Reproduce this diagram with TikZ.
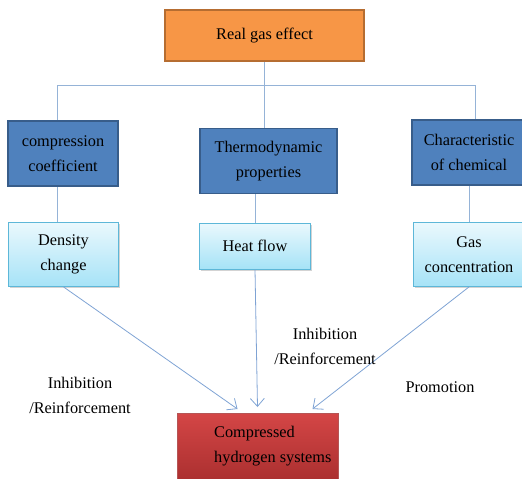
\documentclass[tikz,border=0pt]{standalone}
\usepackage{fontspec}
\setmainfont{Liberation Serif}
\usepackage{tikz}
\usetikzlibrary{arrows.meta,shadows}
\usepackage{xcolor}
\definecolor{lineblue}{HTML}{95B3D7}
\definecolor{arrowblue}{HTML}{7FA3D4}
\definecolor{darkblue}{HTML}{4F81BD}
\definecolor{darkblueline}{HTML}{385D8A}
\definecolor{orangefill}{HTML}{F79646}
\definecolor{orangeline}{HTML}{B66D31}
\definecolor{paletop}{HTML}{EAF8FD}
\definecolor{palebot}{HTML}{A6E3F7}
\definecolor{paleline}{HTML}{5DB7D8}
\definecolor{redtop}{HTML}{D44646}
\definecolor{redbot}{HTML}{A32B2B}

\begin{document}
\begin{tikzpicture}[
    x=1pt, y=-1pt,
    txt/.style={font=\fontsize{16.3}{25}\selectfont, align=center, inner sep=0pt},
    effectbox/.style={txt, rectangle, draw=orangeline, line width=1.6pt, fill=orangefill, minimum width=199pt, minimum height=51pt},
    factorbox/.style={txt, rectangle, draw=darkblueline, line width=1.6pt, fill=darkblue, minimum height=65pt},
    changebox/.style={txt, rectangle, draw=paleline, line width=0.8pt, top color=paletop, bottom color=palebot,
        drop shadow={opacity=0.35, shadow xshift=1.5pt, shadow yshift=-1.5pt}},
    systembox/.style={txt, rectangle, top color=redtop, bottom color=redbot, draw=redbot!80, line width=0.4pt,
        minimum width=161pt, minimum height=80pt},
    link/.style={draw=lineblue, line width=1pt},
    arr/.style={draw=arrowblue, line width=0.8pt, -{Straight Barb[length=8pt,width=14pt]}}
]
    \useasboundingbox (0,0) rectangle (522,479);
    \clip (0,0) rectangle (522,479);

    % Top
    \node[effectbox] (top) at (264.5,35.5) {Real gas effect};

    % Factors
    \node[factorbox, minimum width=110pt] (comp) at (63,153.5) {compression\\coefficient};
    \node[factorbox, minimum width=137pt] (thermo) at (268.5,161) {Thermodynamic\\properties};
    \node[factorbox, minimum width=114pt] (chem) at (469,152.5) {Characteristic\\of chemical};

    % Changes
    \node[changebox, minimum width=110pt, minimum height=64pt] (dens) at (63.5,254.5) {Density\\change};
    \node[changebox, minimum width=111pt, minimum height=46pt] (heat) at (255,246) {Heat flow};
    \node[changebox, minimum width=112pt, minimum height=64pt] (gas) at (469,254.5) {Gas\\concentration};

    % Target
    \node[systembox, anchor=north] (hyd) at (257.5,413) {};
    \node[txt, align=left, anchor=west] (hydtxt) at (214,446) {Compressed\\hydrogen systems};

    % Tree lines
    \coordinate (b1) at (57,85);
    \coordinate (b3) at (475,85);
    \draw[link] (b1) -- (b3);
    \draw[link] (top.south) -- (top.south |- thermo.north);
    \draw[link] (b1) -- (b1 |- comp.north);
    \draw[link] (b3) -- (b3 |- chem.north);
    \draw[link] (b1 |- comp.south) -- (b1 |- dens.north);
    \draw[link] (heat.north |- thermo.south) -- (heat.north);
    \draw[link] (gas.north |- chem.south) -- (gas.north);

    % Effects on the system
    \draw[arr] (dens.south) -- ([xshift=-20pt,yshift=4pt]hyd.north);
    \draw[arr] (heat.south) -- ([yshift=6pt]hyd.north);
    \draw[arr] (gas.south) -- ([xshift=55pt,yshift=4pt]hyd.north);

    \node[txt] (lab1) at (80,395) {Inhibition\\/Reinforcement};
    \node[txt] (lab2) at (325,346) {Inhibition\\/Reinforcement};
    \node[txt] (lab3) at (440,387) {Promotion};

\end{tikzpicture}
\end{document}
